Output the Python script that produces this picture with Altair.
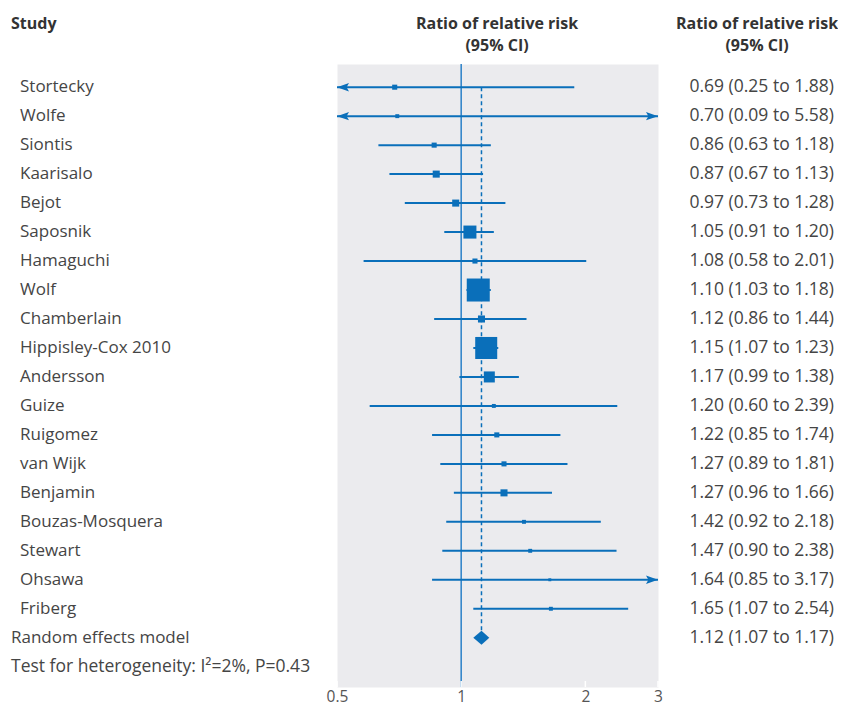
import altair as alt
import pandas as pd

# ---------------- data ----------------
studies = ["Stortecky", "Wolfe", "Siontis", "Kaarisalo", "Bejot", "Saposnik",
           "Hamaguchi", "Wolf", "Chamberlain", "Hippisley-Cox 2010", "Andersson",
           "Guize", "Ruigomez", "van Wijk", "Benjamin", "Bouzas-Mosquera",
           "Stewart", "Ohsawa", "Friberg"]
rr = [0.69, 0.70, 0.86, 0.87, 0.97, 1.05, 1.08, 1.10, 1.12, 1.15, 1.17,
      1.20, 1.22, 1.27, 1.27, 1.42, 1.47, 1.64, 1.65]
lower = [0.25, 0.09, 0.63, 0.67, 0.73, 0.91, 0.58, 1.03, 0.86, 1.07, 0.99,
         0.60, 0.85, 0.89, 0.96, 0.92, 0.90, 0.85, 1.07]
upper = [1.88, 5.58, 1.18, 1.13, 1.28, 1.20, 2.01, 1.18, 1.44, 1.23, 1.38,
         2.39, 1.74, 1.81, 1.66, 2.18, 2.38, 3.17, 2.54]
weight = [1.5, 0.9, 1.5, 2.9, 2.9, 9.9, 1.5, 30.9, 2.9, 28.3, 7.1,
          0.9, 1.5, 1.5, 2.9, 0.9, 0.9, 0.5, 0.9]
pooled_est, pooled_lo, pooled_hi = 1.12, 1.07, 1.17
pooled_label = "Random effects model"
heterogeneity = "Test for heterogeneity: I\u00b2=2%, P=0.43"
header_study = "Study"
header_ratio = "Ratio of relative risk\n(95% CI)"
x_ticks = [0.5, 1, 2, 3]
x_min, x_max = 0.5, 3

# ---------------- styles ----------------
BLUE = "#0a6fba"
TEXT = "#454545"
FONT = "Open Sans"
FS = 17
FS_CI = 17.5

n = len(studies)
df = pd.DataFrame({"study": studies, "rr": rr, "lower": lower, "upper": upper,
                   "weight": weight})
df["row"] = range(n)
df["lo_c"] = df["lower"].clip(lower=x_min)
df["hi_c"] = df["upper"].clip(upper=x_max)
df["ci"] = [f"{a:.2f} ({b:.2f} to {c:.2f})" for a, b, c in zip(rr, lower, upper)]

pooled_row = n
het_row = n + 1
pooled_df = pd.DataFrame({"study": [pooled_label], "row": [pooled_row],
                          "ci": [f"{pooled_est:.2f} ({pooled_lo:.2f} to {pooled_hi:.2f})"]})
het_df = pd.DataFrame({"study": [heterogeneity], "row": [het_row]})

half_h = 0.24
diamond_df = pd.DataFrame({
    "x": [pooled_lo, pooled_est, pooled_hi],
    "y": [pooled_row, pooled_row - half_h, pooled_row],
    "y2": [pooled_row, pooled_row + half_h, pooled_row],
})

xscale = alt.Scale(type="log", domain=[x_min, x_max], nice=False)
yscale = alt.Scale(domain=[-0.8, het_row + 0.7], reverse=True, nice=False, zero=False)
xaxis = alt.Axis(values=x_ticks, format="~g", title=None, grid=False, domain=False,
                 ticks=False, labelFont=FONT, labelFontSize=15.5, labelColor="#555555",
                 labelPadding=2, labelFlush=False)


def X(field):
    return alt.X(field, type="quantitative", scale=xscale, axis=xaxis, title=None)


def Y(field):
    return alt.Y(field, type="quantitative", scale=yscale, axis=None, title=None)


base = alt.Chart(df)

ref_line = alt.Chart(pd.DataFrame({"x": [1]})).mark_rule(
    color="#2a80c8", strokeWidth=1.5).encode(x=X("x"))

dash_line = alt.Chart(pd.DataFrame({"x": [pooled_est], "y": [0], "y2": [pooled_row]})).mark_rule(
    color=BLUE, strokeWidth=1.5, strokeDash=[4, 3]).encode(
    x=X("x"), y=Y("y"), y2="y2")

white_ticks = alt.Chart(pd.DataFrame({"x": x_ticks})).mark_rule(
    color="white", strokeWidth=1.5).encode(
    x=X("x"), y=alt.value(617), y2=alt.value(623))

ci_lines = base.mark_rule(color=BLUE, strokeWidth=2).encode(
    x=X("lo_c"), x2="hi_c", y=Y("row"))

squares = base.mark_square(color=BLUE, opacity=1, filled=True).encode(
    x=X("rr"), y=Y("row"),
    size=alt.Size("weight:Q", scale=alt.Scale(domain=[0, 31], range=[0, 531]), legend=None))

left_arrows = alt.Chart(df[df["lower"] < x_min]).mark_point(
    shape="M0,0L2,-0.7L1.6,0L2,0.7Z", size=144, filled=True, opacity=1,
    color=BLUE, strokeWidth=0).encode(x=X("lo_c"), y=Y("row"))

right_arrows = alt.Chart(df[df["upper"] > x_max]).mark_point(
    shape="M0,0L-2,-0.7L-1.6,0L-2,0.7Z", size=144, filled=True, opacity=1,
    color=BLUE, strokeWidth=0).encode(x=X("hi_c"), y=Y("row"))

diamond = alt.Chart(diamond_df).mark_area(color=BLUE, opacity=1).encode(
    x=X("x"), y=Y("y"), y2="y2")

names = base.mark_text(align="left", baseline="middle", font=FONT, fontSize=FS,
                       color=TEXT).encode(x=alt.value(-317), y=Y("row"), text="study")

pooled_txt = alt.Chart(pooled_df).mark_text(align="left", baseline="middle", font=FONT,
                                            fontSize=FS, color=TEXT).encode(
    x=alt.value(-326), y=Y("row"), text="study")

het_txt = alt.Chart(het_df).mark_text(align="left", baseline="middle", font=FONT,
                                      fontSize=17.5, color=TEXT).encode(
    x=alt.value(-326), y=Y("row"), text="study")

ci_txt = base.mark_text(align="right", baseline="middle", font=FONT, fontSize=FS_CI,
                        color=TEXT).encode(x=alt.value(497), y=Y("row"), text="ci")

pooled_ci_txt = alt.Chart(pooled_df).mark_text(align="right", baseline="middle", font=FONT,
                                               fontSize=FS_CI, color=TEXT).encode(
    x=alt.value(497), y=Y("row"), text="ci")

hdr_df = pd.DataFrame({"t": [header_study]})
hdr_study = alt.Chart(hdr_df).mark_text(align="left", baseline="middle", font=FONT,
                                        fontSize=16, fontWeight="bold", color="#333333").encode(
    x=alt.value(-326), y=alt.value(-40), text="t")

hdr2_df = pd.DataFrame({"t": [header_ratio]})
hdr_mid = alt.Chart(hdr2_df).mark_text(align="center", baseline="middle", font=FONT,
                                       fontSize=16, fontWeight="bold", color="#333333",
                                       lineBreak="\n", lineHeight=22).encode(
    x=alt.value(160), y=alt.value(-40), text="t")
hdr_right = alt.Chart(hdr2_df).mark_text(align="center", baseline="middle", font=FONT,
                                         fontSize=16, fontWeight="bold", color="#333333",
                                         lineBreak="\n", lineHeight=22).encode(
    x=alt.value(420), y=alt.value(-40), text="t")

chart = alt.layer(
    ref_line, dash_line, white_ticks, ci_lines, squares, left_arrows, right_arrows,
    diamond, names, pooled_txt, het_txt, ci_txt, pooled_ci_txt,
    hdr_study, hdr_mid, hdr_right
).properties(
    width=321, height=623,
    autosize=alt.AutoSizeParams(type="none"),
    padding={"left": 329, "top": 56, "right": 180, "bottom": 19},
    background="white",
).configure_view(
    fill="#ebebee", stroke="transparent"
)

chart.save("out.html", embed_options={"renderer": "svg", "actions": False})
